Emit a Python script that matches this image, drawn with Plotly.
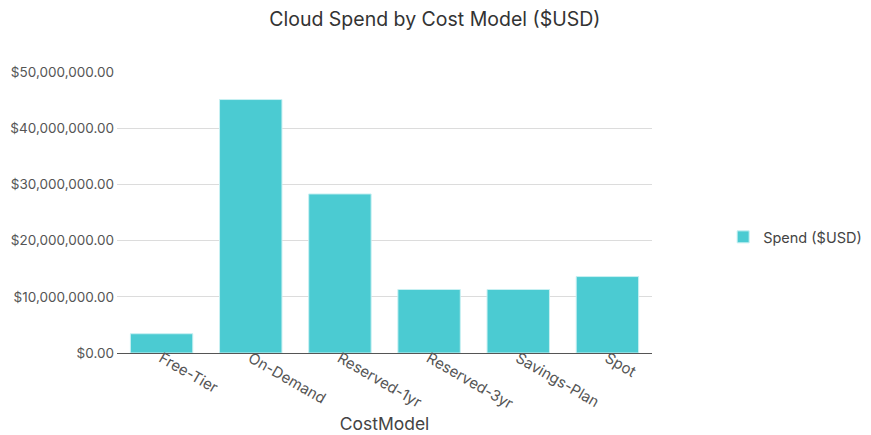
import plotly.graph_objects as go

cost_models = ["Free-Tier", "On-Demand", "Reserved-1yr", "Reserved-3yr", "Savings-Plan", "Spot"]
spend_usd = [3430000, 45100000, 28300000, 11300000, 11300000, 13600000]
y_ticks = [0, 10000000, 20000000, 30000000, 40000000, 50000000]
y_tick_labels = ["$0.00", "$10,000,000.00", "$20,000,000.00", "$30,000,000.00",
                 "$40,000,000.00", "$50,000,000.00"]

fig = go.Figure()
fig.add_trace(go.Bar(
    x=cost_models,
    y=spend_usd,
    name="Spend ($USD)",
    marker=dict(color="#4bcbd2", line=dict(color="#c8f0f2", width=1)),
    showlegend=True,
))

fig.update_layout(
    width=871,
    height=435,
    font=dict(family="Inter", size=14, color="#555"),
    paper_bgcolor="white",
    plot_bgcolor="white",
    title=dict(text="Cloud Spend by Cost Model ($USD)", x=0.49, xanchor="center",
               y=0.975, yanchor="middle", font=dict(size=19.5, color="#333")),
    # the page adds an 8px offset, margins shifted to compensate
    margin=dict(l=109, r=227, t=64, b=90, autoexpand=False),
    bargap=0.3,
    legend=dict(x=1.133, y=0.413, xanchor="left", yanchor="middle",
                font=dict(size=14.5, color="#444")),
    xaxis=dict(
        title=dict(text="CostModel", font=dict(size=17.5, color="#444"), standoff=0),
        tickangle=30,
        tickfont=dict(size=15),
        ticklabelstandoff=-10,
        automargin=False,
        showline=True,
        linecolor="#555",
        linewidth=1,
        showgrid=False,
        ticks="",
    ),
    yaxis=dict(
        range=[0, 50000000],
        tickvals=y_ticks,
        ticktext=y_tick_labels,
        tickfont=dict(size=13.5),
        ticklabelstandoff=2,
        automargin=False,
        gridcolor="#dcdcdc",
        gridwidth=1,
        zeroline=False,
        showline=False,
        ticks="",
    ),
)

fig.write_html("out.html")
